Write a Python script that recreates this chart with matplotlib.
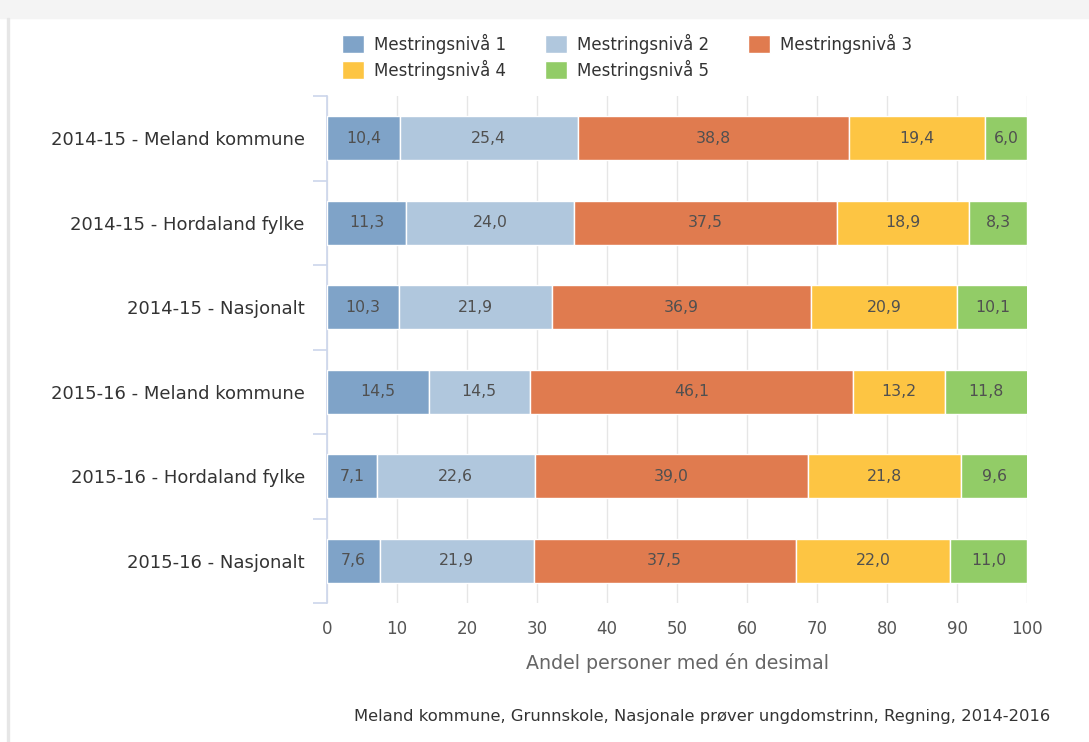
import numpy as np
import matplotlib.pyplot as plt
from matplotlib.patches import Rectangle

categories = [
    "2014-15 - Meland kommune",
    "2014-15 - Hordaland fylke",
    "2014-15 - Nasjonalt",
    "2015-16 - Meland kommune",
    "2015-16 - Hordaland fylke",
    "2015-16 - Nasjonalt",
]
series_names = ["Mestringsnivå 1", "Mestringsnivå 2", "Mestringsnivå 3",
                "Mestringsnivå 4", "Mestringsnivå 5"]
niva1 = [10.4, 11.3, 10.3, 14.5, 7.1, 7.6]
niva2 = [25.4, 24.0, 21.9, 14.5, 22.6, 21.9]
niva3 = [38.8, 37.5, 36.9, 46.1, 39.0, 37.5]
niva4 = [19.4, 18.9, 20.9, 13.2, 21.8, 22.0]
niva5 = [6.0, 8.3, 10.1, 11.8, 9.6, 11.0]
colors = ["#7fa3c8", "#b0c7dd", "#e07b4f", "#fdc543", "#92cc67"]

fig = plt.figure(figsize=(10.89, 7.42), dpi=100)
# page frame: grey band on top, thin line on the left
fig.patches.append(Rectangle((0, 1 - 18 / 742), 1, 18 / 742, transform=fig.transFigure,
                             color="#f4f4f4", zorder=0))
fig.patches.append(Rectangle((7 / 1089, 0), 1.5 / 1089, 1 - 18 / 742, transform=fig.transFigure,
                             color="#e6e6e6", zorder=0))

ax = fig.add_axes([327 / 1089, 1 - 603 / 742, 700 / 1089, 507 / 742])

y = np.arange(len(categories))
left = np.zeros(len(categories))
handles = []
for name, vals, c in zip(series_names, [niva1, niva2, niva3, niva4, niva5], colors):
    vals = np.array(vals)
    b = ax.barh(y, vals, left=left, height=0.52, color=c, edgecolor="white",
                linewidth=1, label=name, zorder=3)
    handles.append(b)
    for yi, l, v in zip(y, left, vals):
        ax.text(l + v / 2, yi, f"{v:.1f}".replace(".", ","), ha="center", va="center",
                fontsize=11.3, color="#505050", zorder=4)
    left += vals

ax.set_xlim(0, 100)
ax.set_ylim(len(categories) - 0.5, -0.5)
ax.set_xticks(range(0, 101, 10))
ax.set_yticks(y)
ax.set_yticklabels(categories, fontsize=13, color="#333333")
ax.tick_params(axis="y", length=0, pad=16)
ax.tick_params(axis="x", length=0, labelsize=12, labelcolor="#555555", pad=12)
ax.set_yticks(np.arange(-0.5, len(categories), 1), minor=True)
ax.tick_params(axis="y", which="minor", length=10, color="#ccd6eb", width=1.2)
ax.grid(axis="x", color="#e6e6e6", linewidth=1, zorder=0)
for s in ["top", "right", "bottom"]:
    ax.spines[s].set_visible(False)
ax.spines["left"].set_color("#ccd6eb")
ax.spines["left"].set_linewidth(1.2)
ax.set_xlabel("Andel personer med én desimal", fontsize=13.7, color="#666666", labelpad=11)

order = [0, 3, 1, 4, 2]
fig.legend([handles[i] for i in order], [series_names[i] for i in order],
           ncol=3, loc="upper left", bbox_to_anchor=(335 / 1089, 1 - 27 / 742),
           frameon=False, fontsize=12, handlelength=1.35, handleheight=1.25,
           columnspacing=2.3, labelspacing=0.35, handletextpad=0.6, borderaxespad=0,
           labelcolor="#333333")

fig.text(1050 / 1089, 1 - 717 / 742, "Meland kommune, Grunnskole, Nasjonale prøver ungdomstrinn, Regning, 2014-2016",
         ha="right", va="center", fontsize=11.8, color="#333333")

fig.savefig("out.png", dpi=100)
